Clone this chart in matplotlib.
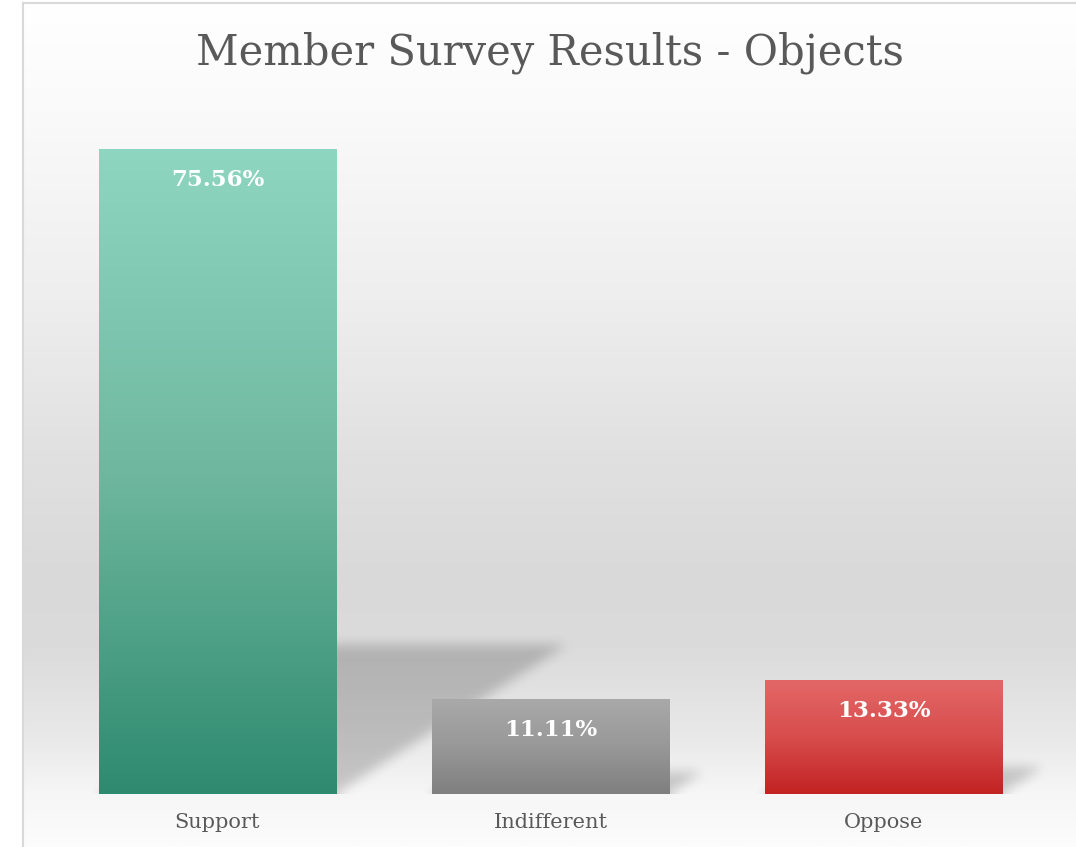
#Encuesta de miembros - barras con degradado y sombra
import numpy as np
import matplotlib
matplotlib.use("Agg")
import matplotlib.pyplot as plt
from matplotlib.colors import LinearSegmentedColormap
from matplotlib.lines import Line2D

#Datos
categorias = ["Support", "Indifferent", "Oppose"]
valores = [75.56, 11.11, 13.33]
etiquetas = ["75.56%", "11.11%", "13.33%"]
titulo = "Member Survey Results - Objects"

#Colores de cada barra (arriba, medio, abajo)
color_arriba = ["#8fd6c1", "#a9a9a9", "#e36767"]
color_medio = ["#6fb89f", "#989898", "#d84d4d"]
color_abajo = ["#2e8a6e", "#7f7f7f", "#c22222"]

W, H = 1076, 847
fig = plt.figure(figsize=(W / 100, H / 100), dpi=100)
fig.patch.set_facecolor("white")

#Fondo con degradado vertical
fondo = fig.add_axes([22 / W, 0, 1 - 22 / W, 844 / H], zorder=-2)
paradas = [(0.0, "#ffffff"), (107 / 844, "#fafafa"), (297 / 844, "#eeeeee"),
           (447 / 844, "#e1e1e1"), (577 / 844, "#d9d9d9"), (647 / 844, "#dbdbdb"),
           (737 / 844, "#e9e9e9"), (791 / 844, "#f6f6f6"), (1.0, "#fcfcfc")]
cmap_fondo = LinearSegmentedColormap.from_list("fondo", paradas)
fondo.imshow(np.linspace(0, 1, 512).reshape(-1, 1), cmap=cmap_fondo, aspect="auto",
             extent=(0, 1, 1, 0), interpolation="bilinear")
fondo.set_xlim(0, 1)
fondo.set_ylim(1, 0)
fondo.axis("off")

#Bordes del area del grafico
fig.add_artist(Line2D([22.5 / W, 22.5 / W], [0, 844 / H], color="#d9d9d9", lw=1.5))
fig.add_artist(Line2D([22.5 / W, 1], [844 / H, 844 / H], color="#d9d9d9", lw=1.5))

#Ejes principales
ax = fig.add_axes([51 / W, 53 / H, 999 / W, 683 / H])
ax.set_facecolor("none")
ax.set_xlim(-0.5, 2.5)
ax.set_ylim(0, 80)
ancho = 0.712
x = np.arange(len(categorias))

#Sombras en perspectiva (mascara + desenfoque)
nx, ny = 1000, 683
xs = np.linspace(-0.5, 2.5, nx)
ys = np.linspace(0, 80, ny)
X, Y = np.meshgrid(xs, ys)
mascara = np.zeros((ny, nx))
for i, v in zip(x, valores):
    h = 0.23 * v
    dx = 0.00914 * v
    desp = dx * Y / h
    dentro = (Y <= h) & (X >= i - ancho / 2 + desp) & (X <= i + ancho / 2 + desp)
    mascara[dentro] = 1.0


def desenfocar(a, r):
    k = np.ones(2 * r + 1) / (2 * r + 1)
    a = np.pad(a, r, mode="edge")
    a = np.apply_along_axis(lambda m: np.convolve(m, k, mode="same"), 0, a)
    a = np.apply_along_axis(lambda m: np.convolve(m, k, mode="same"), 1, a)
    return a[r:-r, r:-r]


for _ in range(3):
    mascara = desenfocar(mascara, 5)
sombra = np.zeros((ny, nx, 4))
sombra[..., 3] = mascara * 0.19
ax.imshow(sombra, origin="lower", extent=(-0.5, 2.5, 0, 80), aspect="auto",
          interpolation="bilinear", zorder=1)

#Barras con degradado
barras = ax.bar(x, valores, width=ancho, color="none", edgecolor="none", zorder=2)
for i, b in enumerate(barras):
    cm = LinearSegmentedColormap.from_list(
        "b%d" % i, [(0, color_abajo[i]), (0.5, color_medio[i]), (1, color_arriba[i])])
    im = ax.imshow(np.linspace(0, 1, 256).reshape(-1, 1), cmap=cm, origin="lower",
                   aspect="auto", extent=(b.get_x(), b.get_x() + b.get_width(), 0, valores[i]),
                   interpolation="bilinear", zorder=2)
    im.set_clip_path(b)
    ax.annotate(etiquetas[i], (x[i], valores[i]), xytext=(0, -22.5), textcoords="offset points",
                ha="center", va="center", fontsize=16.5, fontweight="bold", color="white",
                family="DejaVu Serif", zorder=3)

ax.set_xlim(-0.5, 2.5)
ax.set_ylim(0, 80)

#Ejes y etiquetas
for s in ax.spines.values():
    s.set_visible(False)
ax.set_yticks([])
ax.set_xticks(x)
ax.set_xticklabels(categorias, fontsize=15, color="#595959", family="DejaVu Serif")
ax.tick_params(axis="x", length=0, pad=14)

fig.text(549.5 / W, 1 - 53 / H, titulo, ha="center", va="center", fontsize=30,
         color="#595959", family="DejaVu Serif")

plt.savefig("out.png", dpi=100)
